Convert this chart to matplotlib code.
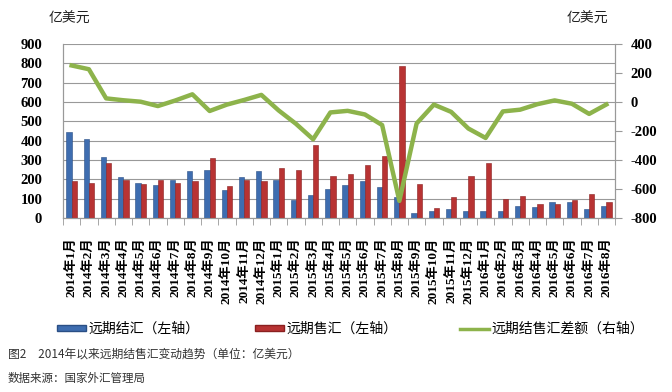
import matplotlib
matplotlib.use("Agg")
import matplotlib.pyplot as plt
from matplotlib.lines import Line2D
from matplotlib.patches import Patch
import numpy as np

months = ["2014年1月","2014年2月","2014年3月","2014年4月","2014年5月","2014年6月",
          "2014年7月","2014年8月","2014年9月","2014年10月","2014年11月","2014年12月",
          "2015年1月","2015年2月","2015年3月","2015年4月","2015年5月","2015年6月",
          "2015年7月","2015年8月","2015年9月","2015年10月","2015年11月","2015年12月",
          "2016年1月","2016年2月","2016年3月","2016年4月","2016年5月","2016年6月",
          "2016年7月","2016年8月"]
settle = [445, 408, 314, 212, 179, 171, 195, 245, 248, 143, 210, 241,
          195, 93, 119, 148, 169, 193, 162, 110, 26, 38, 47, 38,
          38, 38, 64, 57, 84, 84, 47, 64]
sale = [192, 181, 283, 195, 176, 197, 181, 191, 309, 167, 195, 191,
        259, 248, 377, 217, 228, 274, 321, 788, 176, 52, 109, 219,
        284, 100, 115, 72, 72, 93, 124, 81]
diff = [252, 226, 25, 12, 2, -28, 10, 53, -62, -18, 14, 49,
        -58, -150, -257, -72, -61, -86, -159, -682, -148, -18, -68, -183,
        -248, -65, -53, -15, 11, -12, -82, -17]

left_ticks = [0, 100, 200, 300, 400, 500, 600, 700, 800, 900]
right_ticks = [-800, -600, -400, -200, 0, 200, 400]

cjk = ['Noto Sans CJK SC', 'DejaVu Sans']
serif = ['Liberation Serif', 'DejaVu Serif', 'Noto Sans CJK SC']

fig = plt.figure(figsize=(6.72, 3.92), dpi=100)
ax = fig.add_axes([63/672, 1-218/392, (615-63)/672, 174/392])
ax2 = ax.twinx()

x = np.arange(len(months))
w = 0.3
ax.bar(x - w/2, settle, width=w, color='#3E6DB0', edgecolor='#2A4F85', linewidth=0.4, zorder=3)
ax.bar(x + w/2, sale, width=w, color='#B83333', edgecolor='#8A2020', linewidth=0.4, zorder=3)
ax2.plot(x, diff, color='#8DB34B', linewidth=3.2, solid_joinstyle='round', zorder=4)

ax.set_xlim(-0.5, len(months) - 0.5)
ax.set_ylim(0, 900)
ax2.set_ylim(-800, 400)
ax.set_yticks(left_ticks)
ax2.set_yticks(right_ticks)
ax.grid(axis='y', color='#999999', linewidth=0.8, zorder=0)
ax.set_axisbelow(True)

ax.set_xticks(x)
ax.set_xticklabels(months, rotation=90, fontsize=9.5, fontweight='bold', family=serif)
ax.set_xticks(np.arange(len(months) + 1) - 0.5, minor=True)
ax.tick_params(axis='x', which='major', length=0, pad=14)
ax.tick_params(axis='x', which='minor', length=5, color='#999999')
ax.tick_params(axis='y', length=0, pad=15)
ax2.tick_params(axis='y', length=5, color='#999999', pad=6)
ax.set_yticklabels([str(v) for v in left_ticks], family=serif, fontweight='bold', fontsize=10.5)
ax2.set_yticklabels([str(v) for v in right_ticks], family=serif, fontweight='bold', fontsize=10.5)

for a in (ax, ax2):
    a.spines['top'].set_visible(False)
    for s in ('left', 'right', 'bottom'):
        a.spines[s].set_color('#999999')
        a.spines[s].set_linewidth(0.8)
ax2.patch.set_visible(False)

fig.text(69/672, 1-19/392, '亿美元', family=cjk, fontsize=10, ha='center', va='center', color='#222222')
fig.text(587/672, 1-19/392, '亿美元', family=cjk, fontsize=10, ha='center', va='center', color='#222222')

entries = [
    (Patch(facecolor='#3E6DB0', edgecolor='#2A4F85'), '远期结汇（左轴）', 57),
    (Patch(facecolor='#B83333', edgecolor='#8A2020'), '远期售汇（左轴）', 255),
    (Line2D([], [], color='#8DB34B', linewidth=2.5), '远期结售汇差额（右轴）', 460),
]
for h, lab, xp in entries:
    fig.legend([h], [lab], loc='center left', bbox_to_anchor=(xp/672, 1-329/392),
               frameon=False, prop={'family': cjk, 'size': 10},
               handlelength=2.1, handleheight=0.35, handletextpad=0.15, borderpad=0, borderaxespad=0)

fig.text(8/672, 1-354/392, '图2　2014年以来远期结售汇变动趋势（单位：亿美元）', family=cjk,
         fontsize=8.5, ha='left', va='center', color='#333333')
fig.text(8/672, 1-378/392, '数据来源：国家外汇管理局', family=cjk,
         fontsize=8.3, ha='left', va='center', color='#333333')

fig.savefig('out.png', dpi=100)
